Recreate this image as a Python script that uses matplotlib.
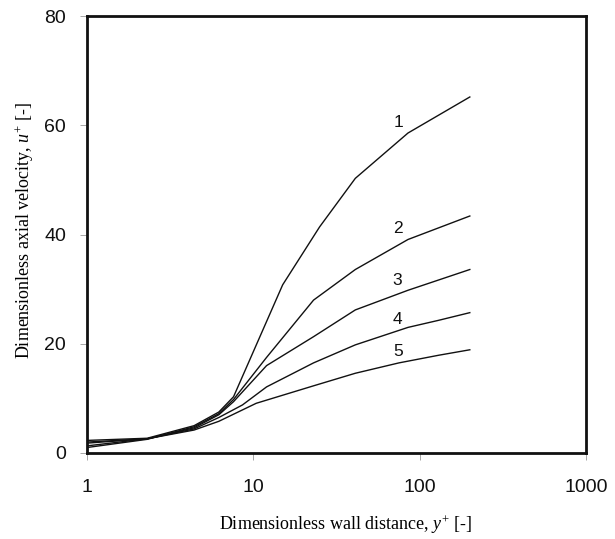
import matplotlib
matplotlib.use('Agg')
import matplotlib.pyplot as plt
from matplotlib.ticker import FixedLocator, NullLocator

plt.rcParams['mathtext.fontset'] = 'custom'
plt.rcParams['mathtext.rm'] = 'Liberation Serif'
plt.rcParams['mathtext.it'] = 'Liberation Serif:italic'

# data (y+, u+) for the five curves
y1 = [1, 2.3, 4.4, 6.2, 7.6, 15, 25, 41, 85, 200]
u1 = [2.3, 2.7, 5.0, 7.5, 10.3, 30.8, 41.4, 50.3, 58.6, 65.2]
y2 = [1, 2.3, 4.4, 6.2, 7.6, 12, 23, 41, 85, 200]
u2 = [1.0, 2.5, 4.8, 7.2, 9.8, 17.5, 28.0, 33.6, 39.1, 43.4]
y3 = [1, 2.3, 4.4, 6.2, 7.6, 12, 23, 41, 85, 200]
u3 = [1.3, 2.6, 4.6, 7.0, 9.4, 16.0, 21.3, 26.2, 29.8, 33.6]
y4 = [1, 2.3, 4.4, 6.2, 8.6, 12, 23, 41, 85, 130, 200]
u4 = [1.8, 2.6, 4.4, 6.5, 8.8, 12.1, 16.5, 19.8, 23.0, 24.3, 25.7]
y5 = [1, 2.3, 4.4, 6.2, 10.4, 23, 41, 75, 130, 200]
u5 = [2.0, 2.6, 4.2, 5.8, 9.1, 12.3, 14.6, 16.5, 17.9, 18.9]
curves = [(y1, u1), (y2, u2), (y3, u3), (y4, u4), (y5, u5)]

labels = ['1', '2', '3', '4', '5']
label_x = [75, 74, 73, 73, 74]
label_y = [60.6, 41.2, 31.5, 24.5, 18.5]

xticks = [1, 10, 100, 1000]
xtick_labels = ['1', '10', '100', '1000']
yticks = [0, 20, 40, 60, 80]

fig = plt.figure(figsize=(6.15, 5.39), dpi=100)
ax = fig.add_axes([0.1415, 0.1596, 0.8115, 0.8104])

for xs, us in curves:
    ax.plot(xs, us, color='#111111', lw=1.0)

for t, lx, ly in zip(labels, label_x, label_y):
    ax.text(lx, ly, t, fontsize=12.5, family='Liberation Sans',
            ha='center', va='center', color='#111111')

ax.set_xscale('log')
ax.set_xlim(1, 1000)
ax.set_ylim(0, 80)
ax.xaxis.set_major_locator(FixedLocator(xticks))
ax.xaxis.set_minor_locator(NullLocator())
ax.set_xticklabels(xtick_labels)
ax.set_yticks(yticks)

for s in ax.spines.values():
    s.set_linewidth(2)
    s.set_color('#111111')

ax.tick_params(axis='both', direction='out', length=5, width=0.6,
               color='#999999', labelsize=14, labelcolor='#111111')
ax.tick_params(axis='x', pad=14)
ax.tick_params(axis='y', pad=10)
for lab in ax.get_xticklabels() + ax.get_yticklabels():
    lab.set_family('Liberation Sans')

ax.set_xlabel('Dimensionless wall distance, $y^{+}$ [-]',
              family='Liberation Serif', fontsize=13, va='center')
ax.set_ylabel('Dimensionless axial velocity, $u^{+}$ [-]',
              family='Liberation Serif', fontsize=13, va='center')
ax.xaxis.set_label_coords(0.518, -0.163)
ax.yaxis.set_label_coords(-0.124, 0.51)

fig.savefig('out.png', dpi=100)
